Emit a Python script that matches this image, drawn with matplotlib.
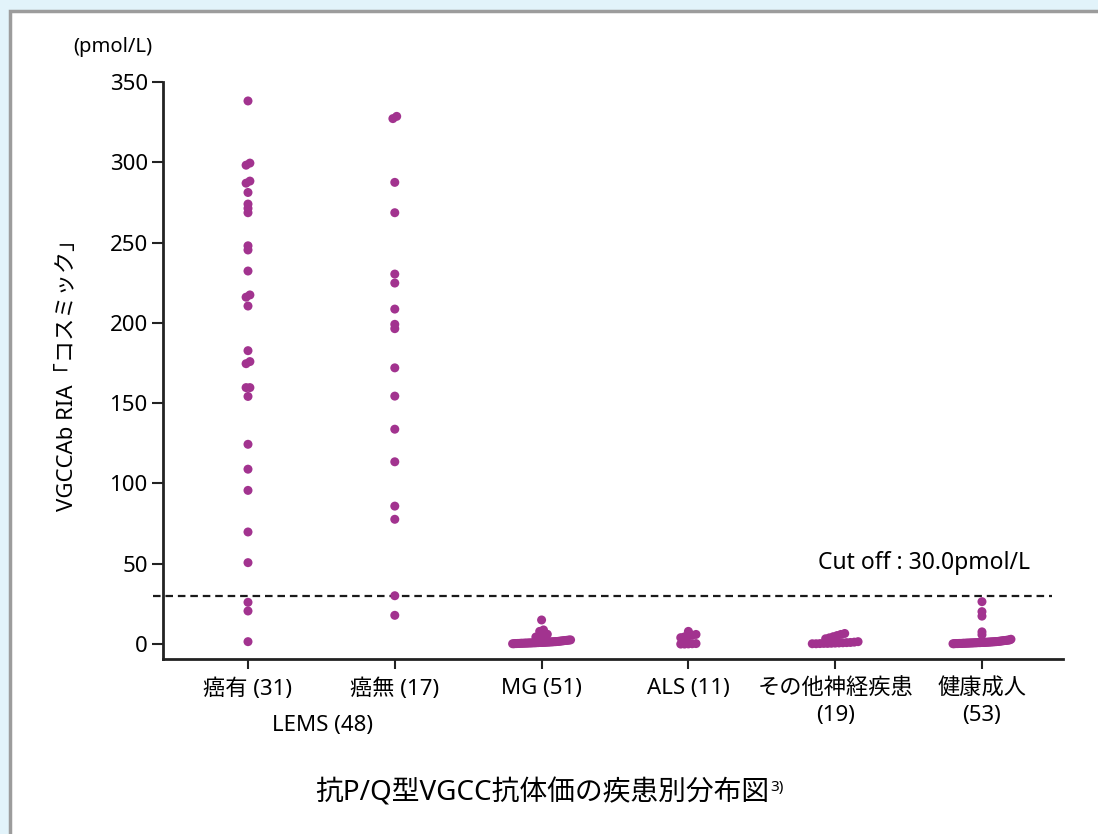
import numpy as np
import matplotlib
matplotlib.use("Agg")
import matplotlib.pyplot as plt
from matplotlib.patches import Rectangle

plt.rcParams['font.family'] = ['Noto Sans', 'Noto Sans CJK JP', 'DejaVu Sans']

# data (pmol/L)
categories = ["癌有 (31)", "癌無 (17)", "MG (51)", "ALS (11)", "その他神経疾患\n(19)", "健康成人\n(53)"]
lems_yes = [338.2, 299.5, 298.2, 288.3, 287.0, 281.2, 274.0, 271.3, 268.6, 248.0,
            245.4, 232.3, 217.4, 216.0, 210.5, 182.7, 175.9, 174.6, 159.7, 159.7,
            154.2, 124.4, 108.9, 95.7, 69.8, 50.7, 26.0, 20.6, 1.5]
lems_no = [328.6, 327.2, 287.5, 268.6, 230.4, 224.8, 208.6, 199.1, 196.4, 172.0,
           154.4, 133.8, 113.5, 85.9, 77.7, 30.1, 17.9]
mg = [0.2, 0.2, 0.3, 0.3, 0.4, 0.4, 0.5, 0.5, 0.5, 0.6, 0.6, 0.6, 0.7, 0.7, 0.7,
      0.8, 0.8, 0.8, 0.9, 0.9, 1.0, 1.0, 1.0, 1.1, 1.1, 1.2, 1.2, 1.3, 1.3, 1.4,
      1.4, 1.5, 1.5, 1.6, 1.7, 1.8, 1.9, 2.0, 2.1, 2.2, 2.3, 2.4, 2.5, 2.6,
      4.4, 4.9, 5.5, 6.1, 7.9, 8.8, 15.0]
als = [0.0, 0.0, 0.1, 0.2, 0.3, 4.0, 4.5, 5.0, 5.5, 6.0, 7.9]
other = [0.2, 0.2, 0.3, 0.4, 0.4, 0.5, 0.6, 0.7, 0.8, 0.9, 1.0, 1.2, 1.5,
         3.3, 3.9, 4.6, 5.3, 6.0, 6.6]
healthy = [0.2, 0.2, 0.3, 0.3, 0.3, 0.4, 0.4, 0.4, 0.5, 0.5, 0.5, 0.6, 0.6, 0.6,
           0.7, 0.7, 0.7, 0.8, 0.8, 0.8, 0.9, 0.9, 0.9, 1.0, 1.0, 1.0, 1.1, 1.1,
           1.2, 1.2, 1.3, 1.3, 1.4, 1.4, 1.5, 1.5, 1.6, 1.7, 1.8, 1.9, 2.0, 2.1,
           2.2, 2.3, 2.4, 2.5, 2.6, 3.0, 5.8, 7.6, 17.4, 20.2, 26.4]
groups = [lems_yes, lems_no, mg, als, other, healthy]
cutoff = 30.0

color = '#a2338f'


def spread(values, center, gap=1.6, step_max=0.026, width_max=0.395):
    # close values share a row and are spread sideways, low to high from left
    v = np.sort(np.asarray(values, dtype=float))
    rows, cur = [], [v[0]]
    for a in v[1:]:
        if a - cur[-1] < gap:
            cur.append(a)
        else:
            rows.append(cur)
            cur = [a]
    rows.append(cur)
    xs, ys = [], []
    for r in rows:
        n = len(r)
        step = min(step_max, width_max / (n - 1)) if n > 1 else 0
        off = (np.arange(n) - (n - 1) / 2) * step
        xs.extend(center + off)
        ys.extend(r)
    return xs, ys


fig = plt.figure(figsize=(10.98, 8.34), dpi=100, facecolor='#e2f3fa')
fig.patches.append(Rectangle((10 / 1098, -0.05), 1.1, 1 - 11 / 834 + 0.05,
                             transform=fig.transFigure, facecolor='white',
                             edgecolor='#9c9c9c', lw=2.5, zorder=-10))

ax = fig.add_axes([163 / 1098, 175 / 834, 900 / 1098, 577 / 834])
ax.set_facecolor('none')

for i, vals in enumerate(groups):
    xs, ys = spread(vals, i)
    ax.scatter(xs, ys, s=42, color=color, edgecolors='none', zorder=3, clip_on=False)

ax.plot([-0.647, 5.477], [cutoff, cutoff], color='#1a1a1a', lw=1.6,
        linestyle=(0, (3.4, 2.2)), clip_on=False, zorder=2)
ax.text(5.327, 50.4, "Cut off : 30.0pmol/L", ha='right', va='center', fontsize=16.5)

ax.set_xlim(-0.579, 5.552)
ax.set_ylim(-9.3, 350)
ax.set_yticks(range(0, 351, 50))
ax.set_xticks(range(len(categories)))
ax.set_xticklabels(categories, fontsize=16, linespacing=1.35)
ax.tick_params(axis='y', labelsize=16, length=8, width=1.5, pad=3, color='#222222')
ax.tick_params(axis='x', length=7, width=1.5, pad=7, color='#222222')
for s in ['top', 'right']:
    ax.spines[s].set_visible(False)
for s in ['left', 'bottom']:
    ax.spines[s].set_linewidth(2)
    ax.spines[s].set_color('#222222')

fig.text(323 / 1098, 1 - 726 / 834, "LEMS (48)", ha='center', va='center', fontsize=16)
fig.text(73 / 1098, 1 - 47 / 834, "(pmol/L)", ha='left', va='center', fontsize=14.5)
fig.text(68 / 1098, 1 - 370 / 834, "VGCCAb RIA「コスミック」", rotation=90,
         ha='center', va='center', fontsize=16)

title = fig.text(542 / 1098, 1 - 793 / 834, "抗P/Q型VGCC抗体価の疾患別分布図",
                 ha='center', va='center', fontsize=20)
fig.canvas.draw()
bb = title.get_window_extent()
fig.text(bb.x1 / fig.bbox.width + 0.001, bb.y1 / fig.bbox.height - 0.001, "3)",
         ha='left', va='top', fontsize=11)

fig.savefig("out.png", dpi=100, facecolor=fig.get_facecolor())
